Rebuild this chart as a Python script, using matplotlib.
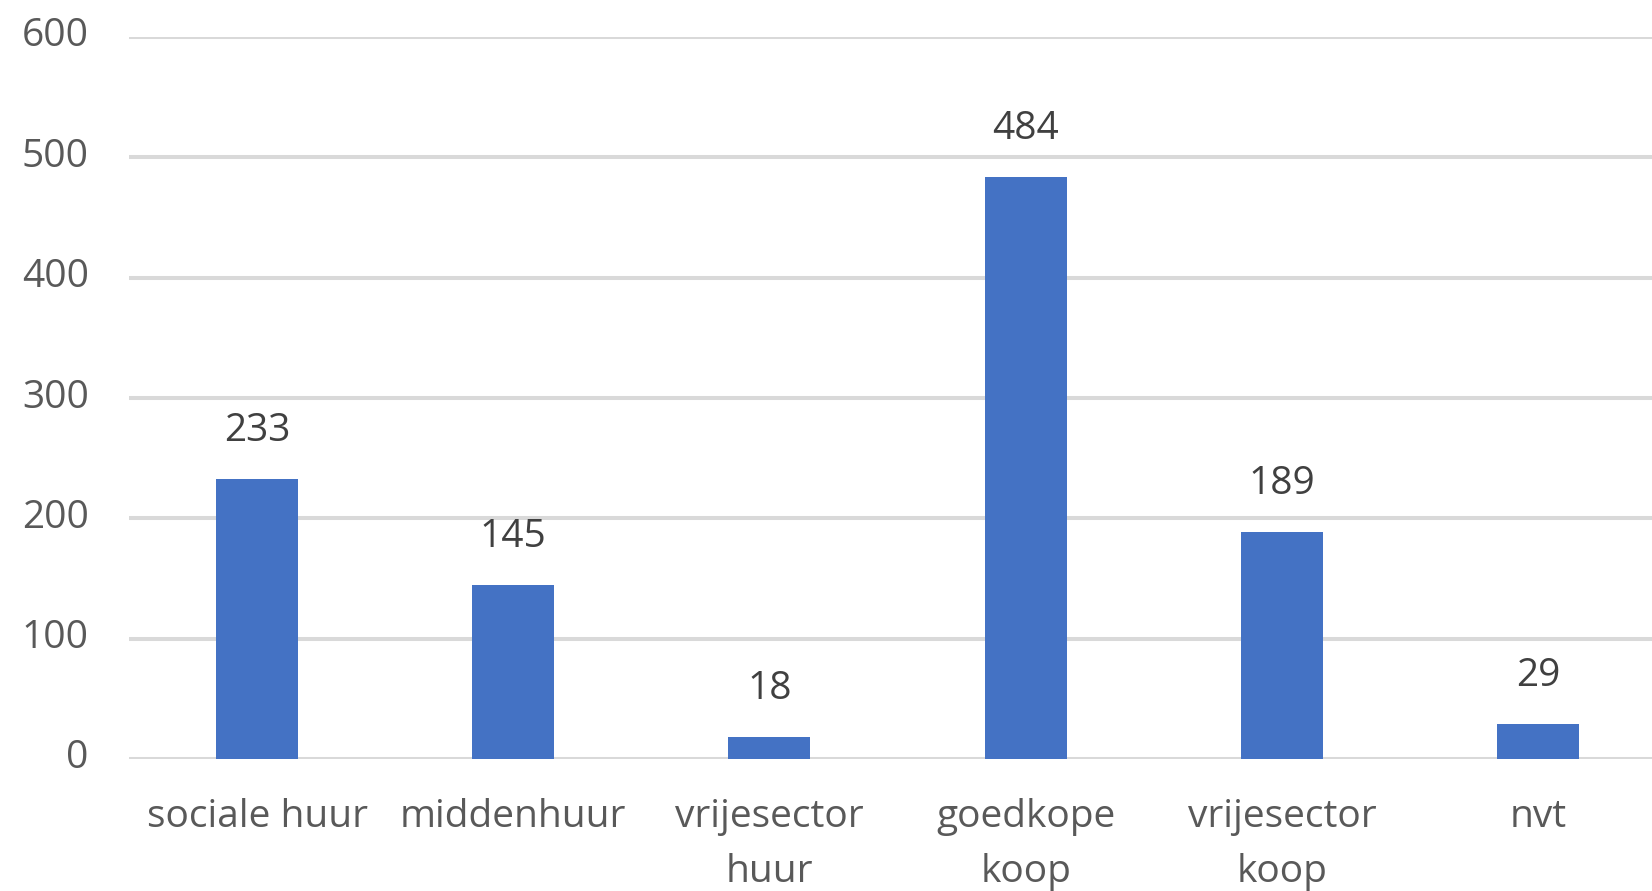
import matplotlib
matplotlib.use("Agg")
import matplotlib.pyplot as plt
import matplotlib.transforms as mtransforms

categories = ["sociale huur", "middenhuur", "vrijesector\nhuur", "goedkope\nkoop", "vrijesector\nkoop", "nvt"]
values = [233, 145, 18, 484, 189, 29]
yticks = [0, 100, 200, 300, 400, 500, 600]

plt.rcParams['font.family'] = ['Open Sans', 'DejaVu Sans']

fig = plt.figure(figsize=(16.52, 8.91), dpi=100)
ax = fig.add_axes([129/1652, 1 - 759/891, 1 - 129/1652, (759 - 37)/891])

x = list(range(len(categories)))
ax.bar(x, values, width=0.32, color="#4472C4", zorder=3)
for xi, v in zip(x, values):
    ax.annotate(str(v), (xi, v), xytext=(0, 34.5), textcoords="offset points",
                ha="center", va="center", fontsize=28, color="#404040")

ax.set_xlim(-0.5, 5.445)
ax.set_ylim(0, 600)
ax.set_yticks(yticks)
ax.set_xticks(x)
ax.set_xticklabels(categories, fontsize=28, color="#595959", linespacing=1.58)
ax.tick_params(axis="y", labelsize=28, labelcolor="#595959", length=0, pad=29)
ax.tick_params(axis="x", length=0, pad=28)
ax.grid(axis="y", color="#D9D9D9", linewidth=2.9, zorder=0)
for s in ax.spines.values():
    s.set_visible(False)
ax.set_axisbelow(True)

offset = mtransforms.ScaledTranslation(0, 5/100, fig.dpi_scale_trans)
for lbl in ax.get_yticklabels():
    lbl.set_transform(lbl.get_transform() + offset)

fig.savefig("out.png", dpi=100)
